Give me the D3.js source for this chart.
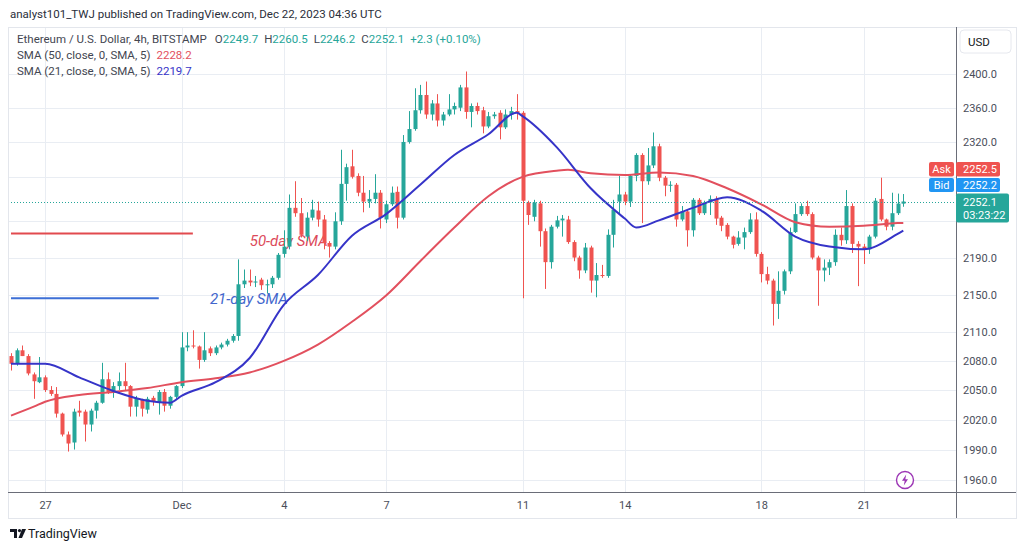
<!DOCTYPE html>
<html>
<head>
<meta charset="utf-8">
<script src="https://cdn.jsdelivr.net/npm/d3@7"></script>
<style>
  html, body { margin: 0; padding: 0; background: #fff; }
  svg text { font-family: Roboto, "Noto Sans", sans-serif; }
</style>
</head>
<body>
<div id="chart"></div>
<script>
// ETH/USD 4h candles, Nov 26 00:00 UTC -> Dec 22 04:00 UTC (one bar every 4 hours)
var firstBar = Date.UTC(2023, 10, 26, 0);
var barHours = 4;

var openPrices = [
  2085, 2077, 2091, 2085, 2066, 2058, 2063, 2050, 2046, 2026,
  2005, 1997, 2029, 2028, 2015, 2029, 2037, 2061, 2048, 2054,
  2059, 2054, 2033, 2040, 2030, 2042, 2037, 2048, 2034, 2043,
  2054, 2094, 2096, 2095, 2081, 2093, 2088, 2094, 2097, 2101,
  2106, 2161, 2165, 2163, 2166, 2160, 2161, 2168, 2194, 2202,
  2245, 2239, 2213, 2234, 2242, 2232, 2206, 2202, 2230, 2272,
  2292, 2281, 2262, 2252, 2255, 2262, 2232, 2249, 2263, 2234,
  2320, 2335, 2357, 2375, 2352, 2365, 2345, 2352, 2358, 2360,
  2384, 2355, 2362, 2357, 2338, 2350, 2354, 2337, 2352, 2356,
  2354, 2251, 2235, 2250, 2219, 2185, 2224, 2231, 2232, 2207,
  2190, 2176, 2201, 2165, 2171, 2170, 2215, 2252, 2260, 2252,
  2281, 2305, 2275, 2293, 2315, 2279, 2270, 2271, 2232, 2241,
  2220, 2254, 2239, 2251, 2255, 2234, 2226, 2213, 2205, 2212,
  2218, 2232, 2194, 2172, 2165, 2140, 2154, 2175, 2218, 2238,
  2247, 2238, 2190, 2176, 2179, 2185, 2215, 2209, 2247, 2205,
  2202, 2199, 2213, 2255, 2232, 2224, 2239, 2249.7
];
var highPrices = [
  2088, 2093, 2096, 2087, 2068, 2084, 2065, 2054, 2053, 2027,
  2008, 2031, 2039, 2030, 2031, 2039, 2078, 2068, 2058, 2068,
  2078, 2055, 2044, 2041, 2043, 2044, 2050, 2051, 2044, 2055,
  2110, 2110, 2112, 2096, 2110, 2095, 2096, 2099, 2103, 2108,
  2188, 2177, 2177, 2170, 2168, 2166, 2170, 2195, 2220, 2260,
  2275, 2256, 2240, 2254, 2252, 2237, 2208, 2240, 2311, 2295,
  2311, 2284, 2281, 2265, 2283, 2265, 2253, 2269, 2269, 2328,
  2356, 2383, 2387, 2391, 2369, 2376, 2355, 2376, 2366, 2387,
  2403, 2365, 2366, 2361, 2355, 2355, 2357, 2358, 2361, 2376,
  2356, 2253, 2254, 2253, 2222, 2226, 2236, 2237, 2236, 2209,
  2192, 2206, 2203, 2184, 2182, 2221, 2254, 2281, 2263, 2283,
  2307, 2307, 2313, 2331, 2318, 2281, 2275, 2273, 2247, 2243,
  2256, 2256, 2253, 2259, 2258, 2236, 2228, 2214, 2219, 2223,
  2239, 2240, 2196, 2180, 2167, 2175, 2177, 2223, 2250, 2250,
  2253, 2240, 2192, 2188, 2188, 2221, 2223, 2265, 2250, 2208,
  2205, 2215, 2256, 2279, 2233, 2262, 2261, 2260.5
];
var lowPrices = [
  2070, 2075, 2085, 2065, 2041, 2057, 2048, 2044, 2022, 2003,
  1988, 1990, 2023, 1998, 2008, 2021, 2036, 2046, 2042, 2050,
  2050, 2023, 2023, 2023, 2026, 2034, 2025, 2028, 2031, 2041,
  2052, 2090, 2093, 2072, 2079, 2085, 2086, 2092, 2095, 2099,
  2101, 2157, 2159, 2158, 2155, 2151, 2157, 2166, 2190, 2199,
  2235, 2212, 2208, 2231, 2224, 2199, 2190, 2199, 2226, 2253,
  2278, 2258, 2240, 2245, 2250, 2222, 2228, 2247, 2222, 2232,
  2318, 2333, 2353, 2347, 2345, 2338, 2339, 2350, 2352, 2356,
  2347, 2337, 2352, 2330, 2336, 2347, 2323, 2335, 2346, 2346,
  2146, 2226, 2230, 2202, 2156, 2178, 2222, 2213, 2205, 2186,
  2167, 2173, 2152, 2147, 2168, 2168, 2201, 2238, 2248, 2246,
  2275, 2228, 2271, 2290, 2275, 2258, 2263, 2224, 2230, 2202,
  2213, 2237, 2237, 2237, 2226, 2219, 2210, 2200, 2203, 2199,
  2216, 2191, 2163, 2161, 2117, 2124, 2150, 2172, 2217, 2236,
  2236, 2188, 2138, 2164, 2171, 2181, 2203, 2205, 2195, 2159,
  2183, 2194, 2211, 2230, 2220, 2220, 2237, 2246.2
];
var closePrices = [
  2077, 2091, 2085, 2067, 2059, 2063, 2050, 2046, 2026, 2005,
  1996, 2028, 2027, 2015, 2029, 2037, 2061, 2048, 2054, 2059,
  2054, 2033, 2041, 2031, 2041, 2038, 2048, 2034, 2043, 2054,
  2094, 2096, 2095, 2081, 2091, 2088, 2094, 2097, 2101, 2106,
  2161, 2165, 2163, 2164, 2160, 2161, 2168, 2193, 2202, 2245,
  2239, 2215, 2234, 2243, 2232, 2206, 2202, 2230, 2272, 2291,
  2280, 2262, 2252, 2255, 2262, 2234, 2249, 2262, 2234, 2320,
  2335, 2357, 2375, 2352, 2365, 2345, 2352, 2358, 2362, 2384,
  2355, 2362, 2356, 2338, 2350, 2352, 2337, 2352, 2356, 2354,
  2253, 2237, 2251, 2219, 2185, 2224, 2231, 2233, 2207, 2190,
  2176, 2201, 2165, 2171, 2170, 2215, 2243, 2260, 2252, 2281,
  2305, 2275, 2293, 2315, 2279, 2270, 2271, 2232, 2241, 2220,
  2254, 2239, 2251, 2255, 2233, 2225, 2213, 2204, 2212, 2218,
  2232, 2194, 2172, 2165, 2140, 2154, 2175, 2218, 2238, 2247,
  2238, 2190, 2176, 2179, 2185, 2215, 2209, 2247, 2205, 2202,
  2199, 2213, 2253, 2232, 2224, 2239, 2249.8, 2252.1
];

// SMA values at some bars (bar index, value)
var sma21Bars = [0, 6, 12, 18, 24, 28, 30, 36, 42, 48, 54, 60, 66, 72, 78, 84, 89, 90, 96, 102, 108, 110, 114, 120, 126, 132, 138, 144, 150, 156, 157];
var sma21Values = [2077, 2077, 2063, 2049, 2039, 2037, 2044, 2058, 2083, 2139, 2171, 2214, 2238, 2271, 2305, 2329, 2354, 2350, 2314, 2267, 2233, 2223, 2231, 2245, 2257, 2242, 2213, 2202, 2199, 2216, 2219.7];
var sma50Bars = [0, 4, 6, 12, 18, 24, 30, 36, 42, 48, 54, 60, 66, 72, 78, 84, 90, 96, 98, 102, 108, 114, 120, 126, 132, 138, 144, 150, 156, 157];
var sma50Values = [2024, 2033, 2038, 2045, 2048, 2052, 2058, 2062, 2068, 2080, 2097, 2121, 2149, 2186, 2223, 2258, 2280, 2287, 2288, 2284, 2282, 2285, 2281, 2267, 2249, 2229, 2224, 2225, 2228, 2228.2];

// Axis ticks
var priceTicks = [2400, 2360, 2320, 2280, 2230, 2190, 2150, 2110, 2080, 2050, 2020, 1990, 1960];
var dateTicks = [Date.UTC(2023, 10, 27), Date.UTC(2023, 11, 1), Date.UTC(2023, 11, 4), Date.UTC(2023, 11, 7),
                 Date.UTC(2023, 11, 11), Date.UTC(2023, 11, 14), Date.UTC(2023, 11, 18), Date.UTC(2023, 11, 21)];
var dateTickLabels = ["27", "Dec", "4", "7", "11", "14", "18", "21"];

// Quote info
var askPrice = 2252.5;
var bidPrice = 2252.2;
var countdown = "03:23:22";

// Hand drawn legend lines and labels (price, from bar, to bar)
var sma50Mark = { price: 2216.5, fromBar: 0, toBar: 32 };
var sma21Mark = { price: 2146, fromBar: 0, toBar: 26 };
var sma50Label = { text: "50-day SMA", bar: 42, price: 2202.7 };
var sma21Label = { text: "21-day SMA", bar: 35, price: 2140 };

function barTime(i) {
    return new Date(firstBar + i * barHours * 3600 * 1000);
}

// Chart Size
var svgWidth = 1024;
var svgHeight = 551;
var pane = { left: 8, right: 956, top: 27, bottom: 492, outerRight: 1016, outerBottom: 518 };

var upColor = "#26a69a";
var downColor = "#ef5350";
var sma21Color = "#3634c8";
var sma50Color = "#e2505e";

var svg = d3.select("#chart")
    .append("svg")
    .attr("width", svgWidth)
    .attr("height", svgHeight);

// Scales
var xScale = d3.scaleUtc()
    .domain([barTime(0), barTime(157)])
    .range([11, 903.3]);

var yScale = d3.scaleLog()
    .domain([1960, 2400])
    .range([480, 74]);

// Title
svg.append("text")
    .attr("x", 10)
    .attr("y", 18)
    .attr("font-size", 11.5)
    .attr("fill", "#2a2e39")
    .text("analyst101_TWJ published on TradingView.com, Dec 22, 2023 04:36 UTC");

// Frame
svg.append("rect")
    .attr("x", pane.left + 0.5)
    .attr("y", pane.top + 0.5)
    .attr("width", pane.outerRight - pane.left)
    .attr("height", pane.outerBottom - pane.top)
    .attr("fill", "none")
    .attr("stroke", "#e3e6ec");

svg.append("defs").append("clipPath")
    .attr("id", "paneClip")
    .append("rect")
    .attr("x", pane.left + 1)
    .attr("y", pane.top + 1)
    .attr("width", pane.right - pane.left - 1)
    .attr("height", pane.bottom - pane.top - 1);

// Grid
var grid = svg.append("g").attr("clip-path", "url(#paneClip)");

grid.selectAll(".hgrid")
    .data(priceTicks)
    .enter()
    .append("line")
    .attr("x1", pane.left)
    .attr("x2", pane.right)
    .attr("y1", d => Math.round(yScale(d)) + 0.5)
    .attr("y2", d => Math.round(yScale(d)) + 0.5)
    .attr("stroke", "#e9edf3");

grid.selectAll(".vgrid")
    .data(dateTicks)
    .enter()
    .append("line")
    .attr("x1", d => Math.round(xScale(d)) + 0.5)
    .attr("x2", d => Math.round(xScale(d)) + 0.5)
    .attr("y1", pane.top)
    .attr("y2", pane.bottom)
    .attr("stroke", "#e9edf3");

var chartGroup = svg.append("g").attr("clip-path", "url(#paneClip)");

// Hand drawn legend lines and labels
chartGroup.append("line")
    .attr("x1", xScale(barTime(sma50Mark.fromBar)))
    .attr("x2", xScale(barTime(sma50Mark.toBar)))
    .attr("y1", yScale(sma50Mark.price))
    .attr("y2", yScale(sma50Mark.price))
    .attr("stroke", "#e24a4f")
    .attr("stroke-width", 2);

chartGroup.append("line")
    .attr("x1", xScale(barTime(sma21Mark.fromBar)))
    .attr("x2", xScale(barTime(sma21Mark.toBar)))
    .attr("y1", yScale(sma21Mark.price))
    .attr("y2", yScale(sma21Mark.price))
    .attr("stroke", "#3d6fd6")
    .attr("stroke-width", 2);

chartGroup.append("text")
    .attr("x", xScale(barTime(sma50Label.bar)))
    .attr("y", yScale(sma50Label.price))
    .attr("font-size", 15)
    .attr("font-style", "italic")
    .attr("fill", "#dc4a5a")
    .text(sma50Label.text);

chartGroup.append("text")
    .attr("x", xScale(barTime(sma21Label.bar)))
    .attr("y", yScale(sma21Label.price))
    .attr("font-size", 15)
    .attr("font-style", "italic")
    .attr("fill", "#4266cc")
    .text(sma21Label.text);

// Candles
var candles = d3.range(closePrices.length).map(i => ({
    t: barTime(i),
    o: openPrices[i],
    h: highPrices[i],
    l: lowPrices[i],
    c: closePrices[i]
}));

var candleGroup = chartGroup.selectAll(".candle")
    .data(candles)
    .enter()
    .append("g");

candleGroup.append("line")
    .attr("x1", d => Math.round(xScale(d.t)) + 0.5)
    .attr("x2", d => Math.round(xScale(d.t)) + 0.5)
    .attr("y1", d => yScale(d.h))
    .attr("y2", d => yScale(d.l))
    .attr("stroke", d => d.c >= d.o ? upColor : downColor)
    .attr("stroke-width", 1);

candleGroup.append("rect")
    .attr("x", d => Math.round(xScale(d.t)) - 1.5)
    .attr("width", 4)
    .attr("y", d => yScale(Math.max(d.o, d.c)))
    .attr("height", d => Math.max(1, yScale(Math.min(d.o, d.c)) - yScale(Math.max(d.o, d.c))))
    .attr("fill", d => d.c >= d.o ? upColor : downColor);

// SMA lines
var smaLine = d3.line()
    .x(d => xScale(barTime(d[0])))
    .y(d => yScale(d[1]))
    .curve(d3.curveMonotoneX);

chartGroup.append("path")
    .datum(sma50Bars.map((b, i) => [b, sma50Values[i]]))
    .attr("d", smaLine)
    .attr("fill", "none")
    .attr("stroke", sma50Color)
    .attr("stroke-width", 2);

chartGroup.append("path")
    .datum(sma21Bars.map((b, i) => [b, sma21Values[i]]))
    .attr("d", smaLine)
    .attr("fill", "none")
    .attr("stroke", sma21Color)
    .attr("stroke-width", 2);

// Last price dotted line
var lastClose = closePrices[closePrices.length - 1];
chartGroup.append("line")
    .attr("x1", pane.left)
    .attr("x2", pane.right)
    .attr("y1", Math.round(yScale(lastClose)) + 0.5)
    .attr("y2", Math.round(yScale(lastClose)) + 0.5)
    .attr("stroke", upColor)
    .attr("stroke-dasharray", "1,2");

// Legend (top left)
var legend = svg.append("g").attr("font-size", 11.5);

var line1 = legend.append("text").attr("x", 17).attr("y", 43);
line1.append("tspan").attr("fill", "#434651").text("Ethereum / U.S. Dollar, 4h, BITSTAMP");
var ohlc = [["O", openPrices], ["H", highPrices], ["L", lowPrices], ["C", closePrices]];
ohlc.forEach((p, k) => {
    line1.append("tspan").attr("dx", k === 0 ? 8 : 6).attr("fill", "#434651").text(p[0]);
    line1.append("tspan").attr("fill", upColor).text(d3.format(".1f")(p[1][p[1].length - 1]));
});
var prevClose = closePrices[closePrices.length - 2];
var change = lastClose - prevClose;
line1.append("tspan").attr("dx", 6).attr("fill", upColor)
    .text("+" + d3.format(".1f")(change) + " (+" + d3.format(".2f")(change / prevClose * 100) + "%)");

var line2 = legend.append("text").attr("x", 17).attr("y", 59);
line2.append("tspan").attr("fill", "#434651").text("SMA (50, close, 0, SMA, 5)");
line2.append("tspan").attr("dx", 6).attr("fill", sma50Color).text(d3.format(".1f")(sma50Values[sma50Values.length - 1]));

var line3 = legend.append("text").attr("x", 17).attr("y", 75);
line3.append("tspan").attr("fill", "#434651").text("SMA (21, close, 0, SMA, 5)");
line3.append("tspan").attr("dx", 6).attr("fill", sma21Color).text(d3.format(".1f")(sma21Values[sma21Values.length - 1]));

// Price tags: stacked above the last price
var lastY = yScale(lastClose);
var tags = [
    { name: "Ask", value: askPrice, color: "#ef5350", top: lastY - 39.5, h: 14.5 },
    { name: "Bid", value: bidPrice, color: "#2196f3", top: lastY - 23.5, h: 14 }
];
var tagTop = lastY - 39.5;
var tagBottom = lastY + 21;

// Price axis (labels hidden behind the price tags are skipped, as on the chart)
var rightAxis = d3.axisRight(yScale)
    .tickValues(priceTicks.filter(p => yScale(p) < tagTop - 6 || yScale(p) > tagBottom + 6))
    .tickFormat(d3.format(".1f"))
    .tickSize(0)
    .tickPadding(7);

var yAxis = svg.append("g")
    .attr("transform", `translate(${pane.right}, 0)`)
    .call(rightAxis);
yAxis.select(".domain").remove();
yAxis.selectAll("text")
    .attr("font-size", 11)
    .attr("font-family", "Roboto, sans-serif")
    .attr("fill", "#4a4e5a");

// Time axis
var bottomAxis = d3.axisBottom(xScale)
    .tickValues(dateTicks.map(d => new Date(d)))
    .tickFormat((d, i) => dateTickLabels[i])
    .tickSize(0)
    .tickPadding(9);

var xAxis = svg.append("g")
    .attr("transform", `translate(0, ${pane.bottom})`)
    .call(bottomAxis);
xAxis.select(".domain").remove();
xAxis.selectAll("text")
    .attr("font-size", 11)
    .attr("font-family", "Roboto, sans-serif")
    .attr("fill", "#4a4e5a");

// Axis separators
svg.append("line")
    .attr("x1", pane.left).attr("x2", pane.outerRight)
    .attr("y1", pane.bottom + 0.5).attr("y2", pane.bottom + 0.5)
    .attr("stroke", "#6a6d78");
svg.append("line")
    .attr("x1", pane.right + 0.5).attr("x2", pane.right + 0.5)
    .attr("y1", pane.top).attr("y2", pane.outerBottom)
    .attr("stroke", "#6a6d78");

// Currency box
svg.append("rect")
    .attr("x", 960).attr("y", 30).attr("width", 51).attr("height", 23).attr("rx", 4)
    .attr("fill", "#fff").attr("stroke", "#e6e8ee");
svg.append("text")
    .attr("x", 968).attr("y", 46)
    .attr("font-size", 11.5).attr("fill", "#131722")
    .text("USD");

tags.forEach(t => {
    svg.append("rect")
        .attr("x", 929).attr("y", t.top).attr("width", 25).attr("height", t.h).attr("rx", 2)
        .attr("fill", t.color);
    svg.append("text")
        .attr("x", 941.5).attr("y", t.top + t.h - 3.5)
        .attr("text-anchor", "middle").attr("font-size", 11).attr("fill", "#fff")
        .text(t.name);
    svg.append("rect")
        .attr("x", 956).attr("y", t.top).attr("width", 44).attr("height", t.h).attr("rx", 2)
        .attr("fill", t.color);
    svg.append("text")
        .attr("x", 963).attr("y", t.top + t.h - 3.5)
        .attr("font-size", 11).attr("fill", "#fff")
        .text(d3.format(".1f")(t.value));
});

svg.append("rect")
    .attr("x", 956).attr("y", lastY - 8).attr("width", 53).attr("height", 29).attr("rx", 2)
    .attr("fill", upColor);
svg.append("text")
    .attr("x", 963).attr("y", lastY + 4)
    .attr("font-size", 11).attr("fill", "#fff")
    .text(d3.format(".1f")(lastClose));
svg.append("text")
    .attr("x", 963).attr("y", lastY + 17)
    .attr("font-size", 11).attr("fill", "#fff")
    .text(countdown);

// Lightning icon
var icon = svg.append("g").attr("transform", "translate(905, 480)");
icon.append("circle").attr("r", 8.5).attr("fill", "#fff").attr("stroke", "#9c36b5").attr("stroke-width", 1.4);
icon.append("path")
    .attr("d", "M1.2,-5.5 L-3,0.8 L-0.3,0.8 L-1.2,5.5 L3,-0.8 L0.3,-0.8 Z")
    .attr("fill", "#9c36b5");

// TradingView logo
var logo = svg.append("g").attr("transform", "translate(10, 529)");
logo.append("path")
    .attr("d", "M0,0 H7 V9 H4 V3 H0 Z")
    .attr("fill", "#131722");
logo.append("circle").attr("cx", 9.5).attr("cy", 1.6).attr("r", 1.6).attr("fill", "#131722");
logo.append("path")
    .attr("d", "M12,0 H16 L12,9 H8.5 Z")
    .attr("fill", "#131722");
svg.append("text")
    .attr("x", 28).attr("y", 538)
    .attr("font-size", 12.5).attr("fill", "#131722")
    .text("TradingView");
</script>
</body>
</html>
